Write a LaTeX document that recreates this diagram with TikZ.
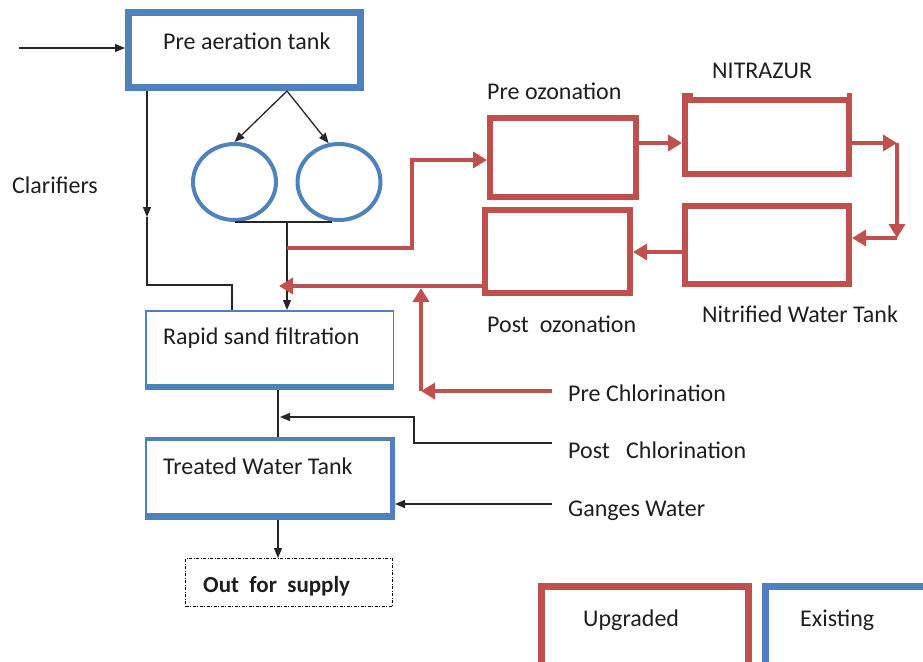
\documentclass[tikz,border=0pt]{standalone}
\usepackage{fontspec}
\setmainfont{Carlito}
\usetikzlibrary{arrows.meta,shapes.geometric}
\definecolor{ured}{HTML}{C0504D}
\definecolor{eblue}{HTML}{4F81BD}
\definecolor{txt}{HTML}{1E1E1E}
\begin{document}
\begin{tikzpicture}[x=1pt,y=-1pt,
  font=\fontsize{24}{28}\selectfont,
  box/.style={inner sep=0pt,anchor=center},
  redbox/.style={box,draw=ured,line width=6pt},
  bluebox/.style={box,draw=eblue,line width=7pt},
  thinblue/.style={box,draw=eblue,line width=1.5pt},
  tank/.style={ellipse,draw=eblue,line width=4pt,inner sep=0pt,minimum width=83pt,minimum height=76pt},
  lbl/.style={anchor=base west,inner sep=0pt,text=txt},
  blk/.style={draw=black!85,line width=1.3pt},
  blkarr/.style={blk,-{Triangle[length=10pt,width=8pt]}},
  redln/.style={draw=ured,line width=4.8pt},
  redarr/.style={redln,-{Triangle[length=14pt,width=16pt]}},
]
\useasboundingbox (0,0) rectangle (923,661);
\clip (0,0) rectangle (923,661);

% boxes
\node[bluebox,minimum width=232pt,minimum height=75pt] (pa) at (244.5,50) {};
\node[tank] (c1) at (234.5,182) {};
\node[tank] (c2) at (339,182) {};
\node[thinblue,minimum width=247.5pt,minimum height=78.5pt] (rs) at (269.5,350) {};
\node[thinblue,minimum width=248.5pt,minimum height=81.5pt] (tw) at (270,478.5) {};
\node[box,draw=black,line width=1.2pt,dash pattern=on 3pt off 1.5pt on 1pt off 1.5pt,
      minimum width=206.8pt,minimum height=47.8pt] (out) at (289,582.5) {};
\node[redbox,minimum width=146pt,minimum height=79pt] (po) at (563,157.5) {};
\node[redbox,minimum width=164pt,minimum height=74pt] (nz) at (767,137) {};
\node[redbox,minimum width=164pt,minimum height=78pt] (nt) at (767,245) {};
\node[redbox,minimum width=145pt,minimum height=83pt] (pz) at (557.5,251.5) {};
\node[redbox,line width=7pt,minimum width=207pt,minimum height=82pt] (up) at (645,627.5) {};
\node[bluebox,minimum width=166pt,minimum height=82pt] (ex) at (848.5,627.5) {};

% thick edges of the partly thin blue boxes
\draw[eblue,line width=6pt] ([shift={(0,-3)}]rs.south west) -- ([shift={(0,-3)}]rs.south east);
\draw[eblue,line width=4pt] ([shift={(0,2)}]tw.north west) -- ([shift={(0,2)}]tw.north east);
\draw[eblue,line width=7pt] ([shift={(0,-3.5)}]tw.south west) -- ([shift={(0,-3.5)}]tw.south east);
\draw[eblue,line width=5pt] ([shift={(-2.5,0)}]tw.north east) -- ([shift={(-2.5,0)}]tw.south east);
% small tabs on the NITRAZUR box
\fill[ured] (nz.north west) rectangle ([shift={(11,-4)}]nz.north west);
\fill[ured] (nz.north east) rectangle ([shift={(-5,-4)}]nz.north east);

% labels
\node[lbl] (tpa) at (163,50) {Pre aeration tank};
\node[lbl] (tcl) at (12,193) {Clarifiers};
\node[lbl] (trs) at (163,344) {Rapid sand filtration};
\node[lbl] (ttw) at (163,474) {Treated Water Tank};
\node[lbl,font=\fontsize{23}{28}\selectfont\bfseries] (tout) at (203,592) {Out\ \ for\ \ supply};
\node[lbl] (tpo) at (487,99) {Pre ozonation};
\node[lbl] (tnz) at (712,78) {NITRAZUR};
\node[lbl] (tpz) at (487,332) {Post\ \ ozonation};
\node[lbl] (tnt) at (702,322) {Nitrified Water Tank};
\node[lbl] (tpc) at (568,401) {Pre Chlorination};
\node[lbl] (tqc) at (568,458) {Post\ \ \ Chlorination};
\node[lbl] (tgw) at (568,516) {Ganges Water};
\node[lbl] (tup) at (583,626) {Upgraded};
\node[lbl] (tex) at (800,626) {Existing};

% coordinates
\coordinate (in) at (19,48);
\coordinate (j1) at (147,217);
\coordinate (j2) at (232,285);
\coordinate (pb) at (287,91);
\coordinate (m1) at (287,222);
\coordinate (r0) at (287,248);
\coordinate (r1) at (412,160);
\coordinate (a1) at (0,143);
\coordinate (e1) at (897,143);
\coordinate (e2) at (897,238);
\coordinate (a2) at (0,252);
\coordinate (r2) at (279,286);
\coordinate (pc) at (552,391);
\coordinate (pk) at (421,391);
\coordinate (qc) at (552,443);
\coordinate (q1) at (414,443);
\coordinate (q2) at (414,417);
\coordinate (q3) at (280,417);
\coordinate (v) at (278,0);
\coordinate (gw) at (552,504);

% black connectors
\draw[blkarr] (in) -- (in -| pa.west);
\draw[blkarr] (j1 |- pa.south) -- (j1);
\draw[blk] (j1) -- (j1 |- j2) -- (j2) -- (j2 |- rs.north);
\draw[blkarr] (pb) -- (c1.north);
\draw[blkarr] (pb) -- (c2.105);
\draw[blk] (c1.south) -- (c1.south -| c2.260);
\draw[blkarr] (m1) -- (m1 |- rs.north);
\draw[blk] (v |- rs.south) -- (v |- tw.north);
\draw[blkarr] (qc) -- (q1) -- (q2) -- (q3);
\draw[blkarr] (gw) -- (gw -| tw.east);
\draw[blkarr] (v |- tw.south) -- (v |- out.north);

% red connectors
\draw[redarr] (r0) -| (r1) -- (r1 -| po.west);
\draw[redarr] (po.east |- a1) -- (nz.west |- a1);
\draw[redarr] (nz.east |- e1) -- (e1);
\draw[redarr] (e1) -- (e2);
\draw[redarr] (e2) -- (e2 -| nt.east);
\draw[redarr] (nt.west |- a2) -- (pz.east |- a2);
\draw[redarr] (pz.west |- r2) -- (r2);
\draw[redarr] (pc) -- (pk);
\draw[redarr] (pk) -- ([yshift=-2pt]pk |- r2);
\end{tikzpicture}
\end{document}
